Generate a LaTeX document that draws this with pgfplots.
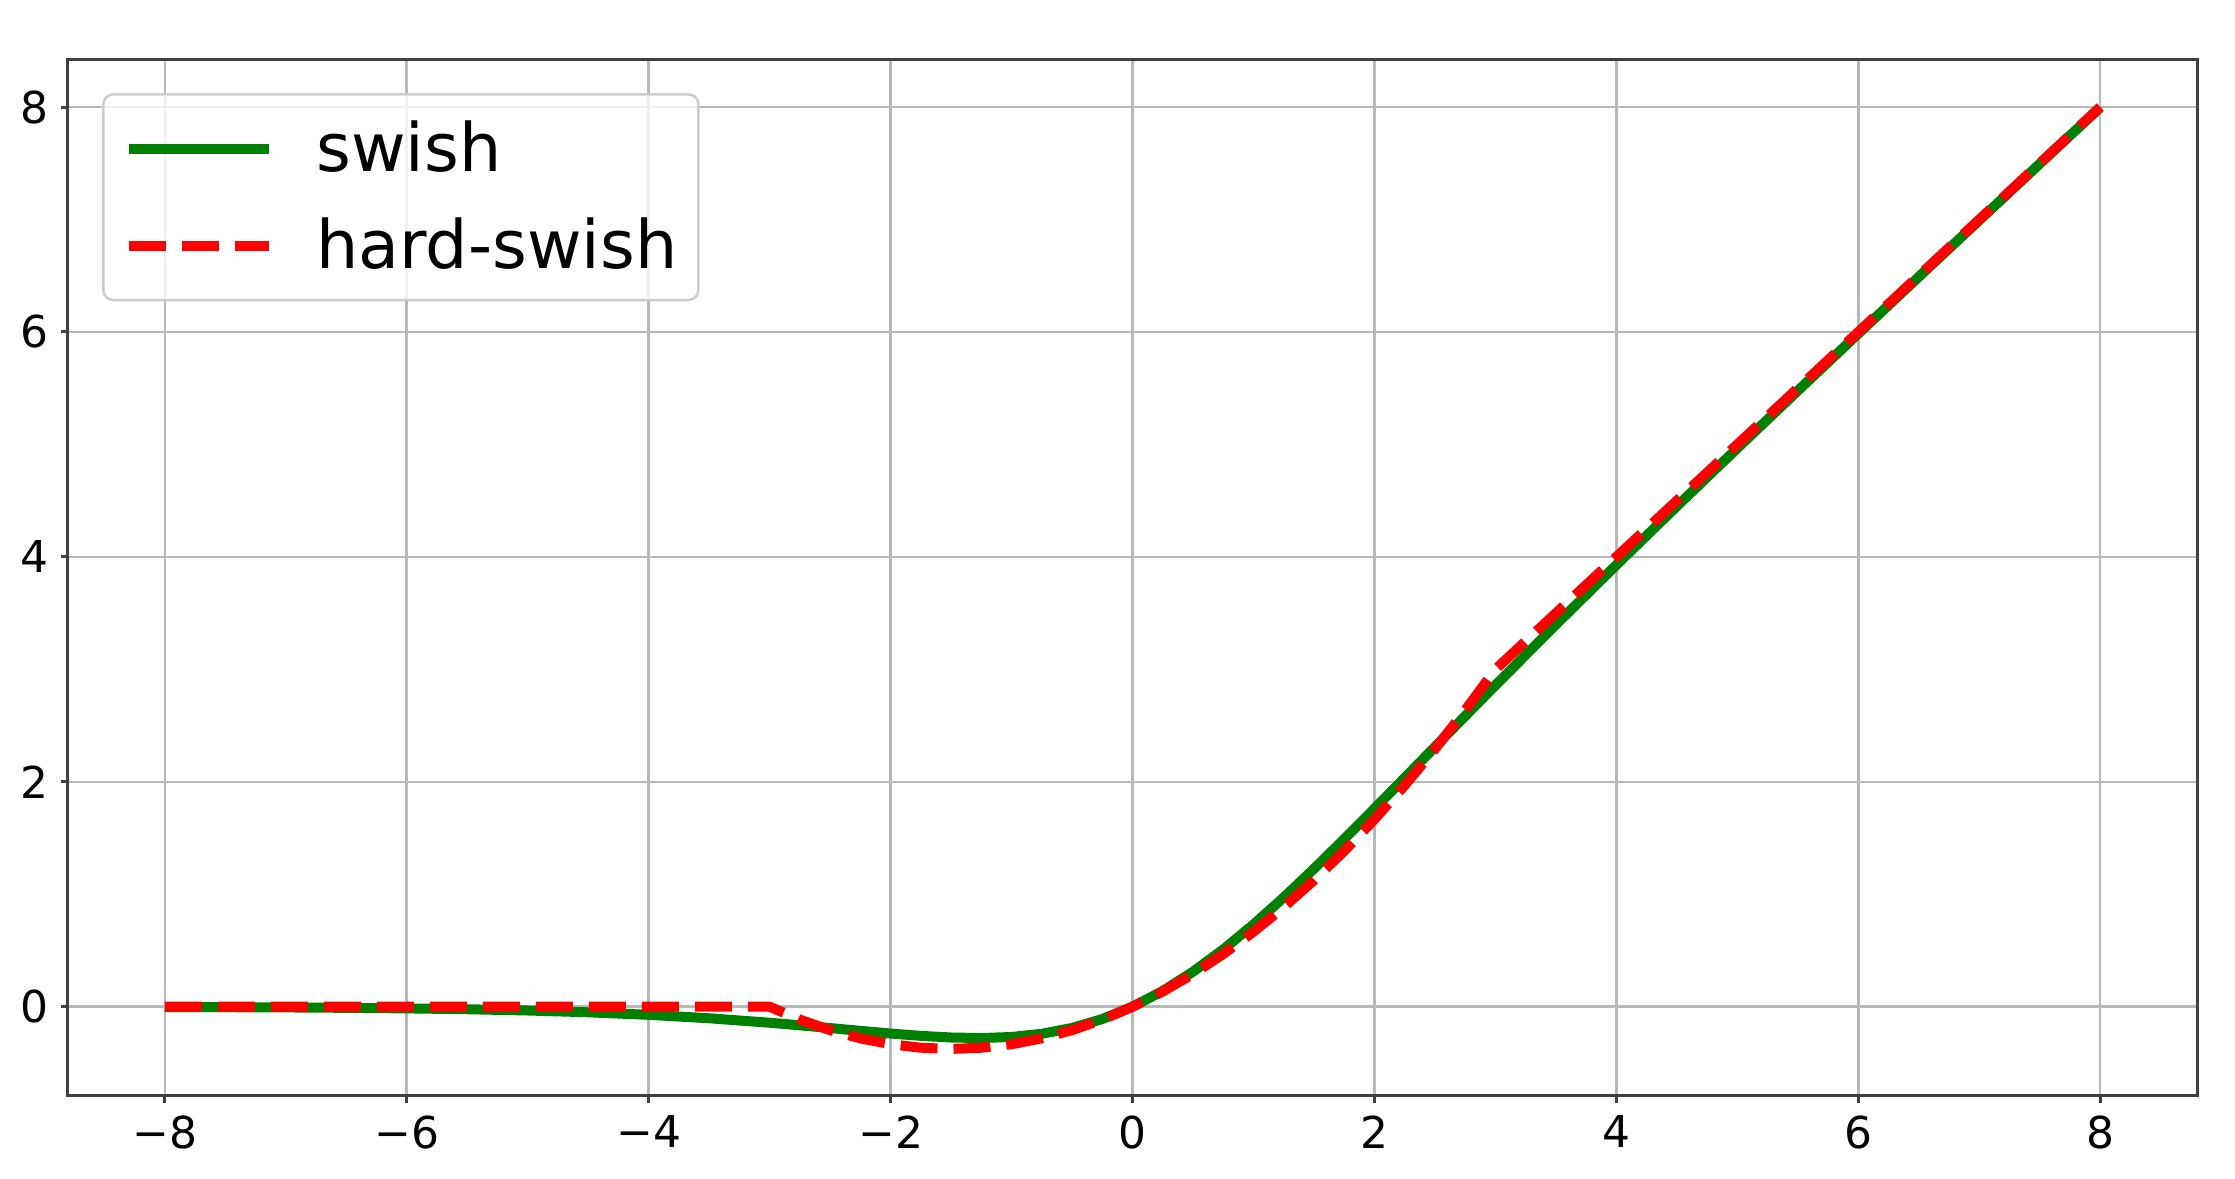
\documentclass[border=0pt]{standalone}
\usepackage{pgfplots}
\pgfplotsset{compat=1.18}
\usepackage{fontspec}
\setmainfont{DejaVu Sans}
\definecolor{mplgreen}{HTML}{008000}
\definecolor{mplred}{HTML}{FF0000}
\pgfplotsset{
  imgA/.style={legend image code/.code={\draw[##1] (0mm,0mm) -- (14mm,0mm);}},
}
\begin{document}
\begin{tikzpicture}
\useasboundingbox (-6.8mm,-8.3mm) rectangle (216.7mm,109.6mm);
\begin{axis}[
  at={(0,0)}, anchor=south west,
  scale only axis, width=212.9mm, height=103.6mm,
  xmin=-8.8, xmax=8.8, ymin=-0.79375, ymax=8.41875,
  xtick={-8,-6,-4,-2,0,2,4,6,8},
  xticklabels={−8,−6,−4,−2,0,2,4,6,8},
  ytick={0,2,4,6,8},
  yticklabels={0,2,4,6,8},
  xtick pos=bottom, ytick pos=left,
  grid=major,
  major grid style={color=black!28, line width=0.25mm},
  axis line style={black!75, line width=0.3mm},
  tick align=outside, major tick length=0.7mm,
  tick style={black!75, line width=0.3mm},
  tick label style={font=\fontsize{12.5}{15}\selectfont},
  /pgf/number format/assume math mode=true,
  legend cell align=left,
  legend style={at={(0.016,0.968)}, anchor=north west,
    draw=black!20, line width=0.25mm, rounded corners=1mm,
    fill=white, fill opacity=0.8, text opacity=1, draw opacity=1,
    font=\fontsize{19}{23}\selectfont,
    inner xsep=2.1mm, inner ysep=2.63mm,
    nodes={inner sep=0pt},
    row 2/.style={nodes={text depth=1.7mm}},
    row sep=4.1mm,
    /tikz/every odd column/.append style={column sep=4.2mm}},
  imgA,
]
\addplot[color=mplgreen, line width=1mm, line join=round] coordinates {
(-8,-0.00268) (-7.5,-0.00415) (-7,-0.00638) (-6.5,-0.00976) (-6,-0.01484)
(-5.5,-0.02239) (-5,-0.03346) (-4.5,-0.04944) (-4,-0.07194) (-3.5,-0.10259)
(-3,-0.14228) (-2.75,-0.16524) (-2.5,-0.18965) (-2.25,-0.21454) (-2,-0.23841)
(-1.75,-0.25908) (-1.5,-0.27364) (-1.25,-0.27838) (-1,-0.26894) (-0.75,-0.24062)
(-0.5,-0.18877) (-0.25,-0.10946) (0,0) (0.25,0.14054) (0.5,0.31123)
(0.75,0.50938) (1,0.73106) (1.25,0.97163) (1.5,1.22636) (1.75,1.49092)
(2,1.76159) (2.25,2.03546) (2.5,2.31036) (2.75,2.58476) (3,2.85772)
(3.5,3.39741) (4,3.92806) (4.5,4.45056) (5,4.96654) (5.5,5.47762)
(6,5.98516) (6.5,6.49025) (7,6.99362) (7.5,7.49585) (8,7.99732)
};
\addlegendentry{swish}
\addplot[color=mplred, line width=1mm, dash pattern=on 3.7mm off 1.6mm, line cap=butt] coordinates {
(-8,0) (-3,0) (-2.75,-0.11458) (-2.5,-0.20833) (-2.25,-0.28125) (-2,-0.33333)
(-1.75,-0.36458) (-1.5,-0.375) (-1.25,-0.36458) (-1,-0.33333) (-0.75,-0.28125)
(-0.5,-0.20833) (-0.25,-0.11458) (0,0) (0.25,0.13542) (0.5,0.29167)
(0.75,0.46875) (1,0.66667) (1.25,0.88542) (1.5,1.125) (1.75,1.38542)
(2,1.66667) (2.25,1.96875) (2.5,2.29167) (2.75,2.63542) (3,3) (8,8)
};
\addlegendentry{hard-swish\hspace{0.4mm}}
\end{axis}
\end{tikzpicture}
\end{document}
